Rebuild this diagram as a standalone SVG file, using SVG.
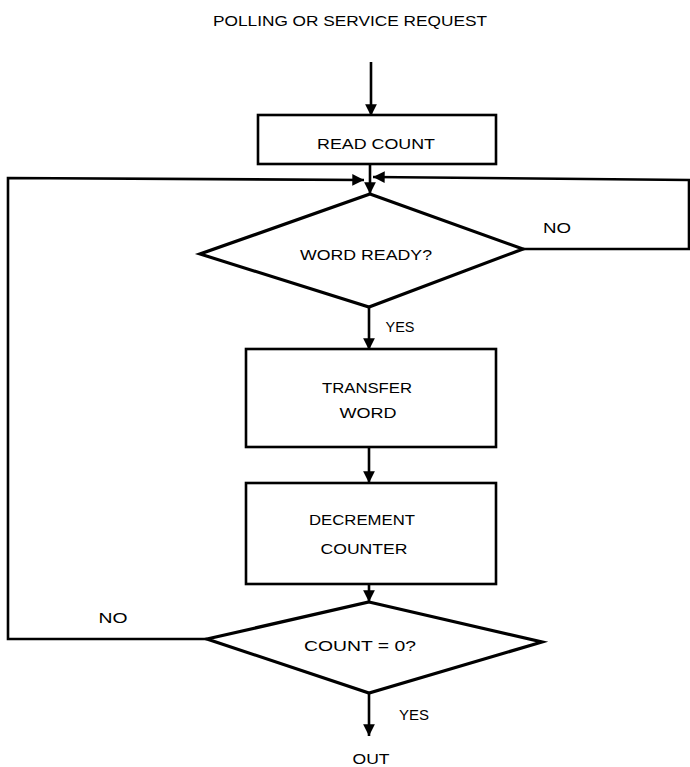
<svg xmlns="http://www.w3.org/2000/svg" width="690" height="767" viewBox="0 0 690 767">
<defs>
<style>
.t{font-family:"Liberation Sans","DejaVu Sans",sans-serif;font-size:15px;fill:#000;text-anchor:middle;dominant-baseline:central}
.b{fill:#fff;stroke:#000;stroke-width:2.6}
.d{fill:#fff;stroke:#000;stroke-width:3.2;stroke-linejoin:miter}
.c{fill:none;stroke:#000;stroke-width:2.6}
</style>
<marker id="ah" viewBox="0 0 10 10" refX="10" refY="5" markerWidth="4.5" markerHeight="4.5" markerUnits="strokeWidth" orient="auto">
<path d="M0,0 L10,5 L0,10 z" fill="#000"/>
</marker>
</defs>
<rect width="690" height="767" fill="#fff"/>
<text class="t" x="350" y="20" textLength="274" lengthAdjust="spacingAndGlyphs">POLLING OR SERVICE REQUEST</text>
<g id="connectors">
<path class="c" d="M371,62 L371,116" marker-end="url(#ah)"/>
<path class="c" d="M370,164 L370,194" marker-end="url(#ah)"/>
<path class="c" d="M207,639 L8,639 L8,178 L364,180" marker-end="url(#ah)"/>
<path class="c" d="M523,249 L689,249 L689,180 L373,177" marker-end="url(#ah)"/>
<path class="c" d="M369,307 L369,350" marker-end="url(#ah)"/>
<path class="c" d="M369,447 L369,483" marker-end="url(#ah)"/>
<path class="c" d="M369,584 L369,602" marker-end="url(#ah)"/>
<path class="c" d="M369,693 L369,736" marker-end="url(#ah)"/>
</g>
<g id="read_count">
<rect class="b" x="258" y="115" width="238" height="49"/>
<text class="t" x="376" y="143" textLength="118" lengthAdjust="spacingAndGlyphs">READ COUNT</text>
</g>
<g id="word_ready">
<polygon class="d" points="370,194 523,249 369,307 200,254"/>
<text class="t" x="366" y="254" textLength="132" lengthAdjust="spacingAndGlyphs">WORD READY?</text>
</g>
<g id="transfer_word">
<rect class="b" x="246" y="349" width="250" height="98"/>
<text class="t" x="367" y="387" textLength="90" lengthAdjust="spacingAndGlyphs">TRANSFER</text>
<text class="t" x="368" y="412" textLength="57" lengthAdjust="spacingAndGlyphs">WORD</text>
</g>
<g id="decrement_counter">
<rect class="b" x="246" y="483" width="250" height="101"/>
<text class="t" x="362" y="519" textLength="106" lengthAdjust="spacingAndGlyphs">DECREMENT</text>
<text class="t" x="364" y="548" textLength="87" lengthAdjust="spacingAndGlyphs">COUNTER</text>
</g>
<g id="count_zero">
<polygon class="d" points="369,602 542,642 369,693 207,639"/>
<text class="t" x="360" y="645" textLength="112" lengthAdjust="spacingAndGlyphs">COUNT = 0?</text>
</g>
<g id="labels">
<text class="t" x="557" y="227" textLength="28" lengthAdjust="spacingAndGlyphs">NO</text>
<text class="t" x="400" y="326" textLength="29" lengthAdjust="spacingAndGlyphs">YES</text>
<text class="t" x="113" y="617" textLength="29" lengthAdjust="spacingAndGlyphs">NO</text>
<text class="t" x="414" y="714" textLength="30" lengthAdjust="spacingAndGlyphs">YES</text>
<text class="t" x="371" y="758" textLength="37" lengthAdjust="spacingAndGlyphs">OUT</text>
</g>
</svg>
